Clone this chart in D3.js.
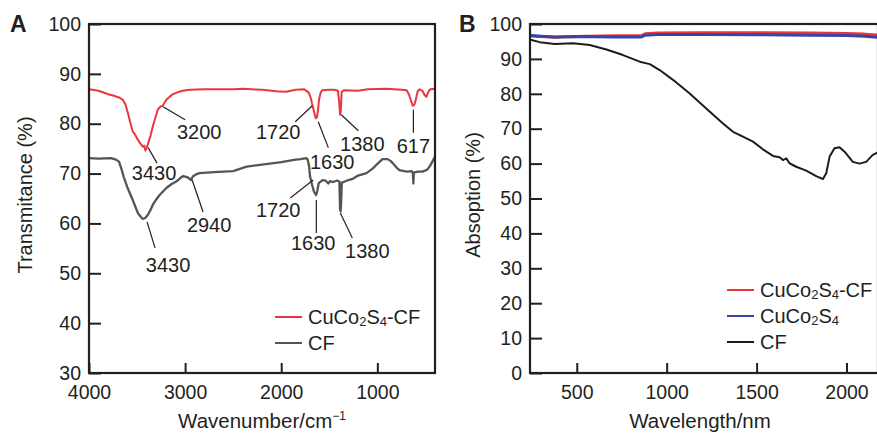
<!DOCTYPE html>
<html>
<head>
<meta charset="utf-8">
<script src="https://cdn.jsdelivr.net/npm/d3@7"></script>
<style>
  body { margin: 0; background: #fff; }
  svg { display: block; font-family: "Liberation Sans", Arial, sans-serif; }
  .tick text { font-size: 19.5px; fill: #231f20; }
  .tick line { stroke: #231f20; stroke-width: 2; }
</style>
</head>
<body>
<div id="chart"></div>
<script>
// ---- Panel A: FTIR (wavenumber, transmitance %)
const ftirCuCoS = [
  [4000, 86.9], [3900, 86.6], [3800, 85.9], [3740, 85.6], [3713, 85.4], [3680, 85.2],
  [3648, 84.8], [3620, 83.8], [3596, 82.2], [3570, 80.2], [3544, 78.4], [3520, 77.8],
  [3492, 76.8], [3465, 76.0], [3440, 75.4], [3425, 75.6], [3413, 74.6], [3400, 75.2],
  [3389, 75.8], [3360, 77.6], [3337, 79.4], [3310, 81.2], [3285, 82.8], [3260, 83.4],
  [3233, 83.6], [3215, 84.2], [3195, 84.8], [3160, 85.4], [3130, 85.9], [3080, 86.3],
  [3026, 86.6], [2950, 86.8], [2800, 86.9], [2500, 86.9], [2400, 87.0], [2200, 86.8],
  [2050, 86.5], [1950, 86.4], [1850, 86.8], [1760, 86.9], [1730, 86.5], [1710, 86.1],
  [1690, 85.0], [1680, 84.1], [1660, 82.5], [1641, 81.1], [1628, 81.3], [1615, 83.0],
  [1607, 84.8], [1590, 86.2], [1575, 86.7], [1500, 86.8], [1450, 86.8], [1410, 86.6],
  [1395, 84.0], [1388, 81.8], [1380, 82.5], [1372, 86.3], [1350, 86.7], [1200, 86.6],
  [1100, 86.9], [900, 87.0], [750, 86.8], [695, 86.7], [670, 85.8], [650, 84.6],
  [630, 83.6], [615, 83.8], [600, 84.8], [580, 86.5], [560, 86.9], [530, 86.6],
  [510, 85.8], [490, 85.4], [470, 86.4], [450, 86.9], [400, 87.0]
];
const ftirCF = [
  [4000, 73.1], [3900, 73.0], [3770, 73.1], [3720, 72.8], [3688, 72.4], [3660, 70.8],
  [3640, 69.4], [3600, 67.2], [3545, 64.7], [3510, 63.0], [3492, 62.1], [3460, 61.3],
  [3440, 60.9], [3415, 61.1], [3389, 61.7], [3360, 62.7], [3337, 63.7], [3300, 64.8],
  [3265, 65.7], [3230, 66.4], [3195, 67.1], [3140, 67.9], [3092, 68.4], [3050, 69.1],
  [3020, 69.5], [2980, 69.3], [2950, 68.9], [2938, 68.7], [2920, 69.4], [2880, 69.9],
  [2850, 70.1], [2700, 70.3], [2500, 70.5], [2360, 71.4], [2200, 71.8], [2000, 72.3],
  [1850, 72.8], [1800, 72.9], [1740, 73.1], [1725, 72.8], [1710, 71.5], [1700, 69.4],
  [1680, 67.8], [1660, 66.4], [1645, 65.9], [1637, 65.7], [1625, 66.5], [1610, 68.1],
  [1590, 68.4], [1570, 68.7], [1540, 68.6], [1510, 68.0], [1490, 68.5], [1460, 68.3],
  [1420, 68.6], [1395, 68.4], [1388, 63.0], [1382, 62.4], [1376, 64.5], [1370, 68.2],
  [1340, 68.4], [1300, 68.7], [1250, 69.0], [1200, 69.6], [1112, 70.1], [1050, 71.0],
  [980, 72.3], [946, 72.9], [893, 72.9], [860, 72.5], [840, 72.1], [800, 71.2],
  [770, 70.7], [720, 70.5], [685, 70.4], [640, 70.5], [630, 70.0], [625, 68.0],
  [620, 70.2], [580, 70.4], [530, 70.4], [480, 70.8], [450, 71.6], [430, 72.3], [400, 73.4]
];
// peak labels: text, leader line start/end, text anchor (all in data units)
const ftirLabels = [
  { t: "3200", p1: [3229, 83.4], p2: [3000, 80.8], at: [2854, 78.4] },
  { t: "3430", p1: [3385, 75.2], p2: [3292, 72.1], at: [3323, 70.1] },
  { t: "1720", p1: [1677, 83.6], p2: [1854, 80.4], at: [2031, 78.4] },
  { t: "1630", p1: [1615, 80.4], p2: [1510, 75.2], at: [1469, 72.3] },
  { t: "1380", p1: [1375, 81.8], p2: [1198, 78.6], at: [1156, 76.0] },
  { t: "617",  p1: [625, 82.8],  p2: [625, 78.2],  at: [625, 75.6] },
  { t: "3430", p1: [3396, 60.3], p2: [3313, 55.1], at: [3177, 51.7] },
  { t: "2940", p1: [2927, 68.7], p2: [2813, 62.3], at: [2750, 59.7] },
  { t: "1720", p1: [1667, 68.7], p2: [1906, 65.1], at: [2031, 62.7] },
  { t: "1630", p1: [1635, 64.7], p2: [1635, 58.1], at: [1667, 56.1] },
  { t: "1380", p1: [1385, 62.1], p2: [1260, 57.1], at: [1104, 54.5] }
];
const ftirXTicks = [4000, 3000, 2000, 1000];
const ftirYTicks = [30, 40, 50, 60, 70, 80, 90, 100];

// ---- Panel B: UV-vis-NIR (wavelength, absorption %)
const absCuCoSCF = [
  [240, 96.6], [300, 96.4], [380, 96.2], [500, 96.4], [700, 96.6], [860, 96.7],
  [880, 97.2], [950, 97.4], [1200, 97.5], [1500, 97.5], [1800, 97.4], [2000, 97.3],
  [2100, 97.1], [2175, 96.8]
];
const absCuCoS = [
  [240, 96.7], [300, 96.5], [380, 96.3], [500, 96.4], [700, 96.3], [860, 96.3],
  [880, 96.8], [950, 97.0], [1200, 97.0], [1500, 96.9], [1800, 96.8], [2000, 96.7],
  [2100, 96.5], [2175, 96.2]
];
const absCF = [
  [240, 95.6], [248, 95.4], [294, 94.8], [378, 94.3], [480, 94.5], [572, 94.0],
  [665, 92.7], [757, 91.1], [850, 89.2], [906, 88.5], [961, 86.8], [1035, 84.0],
  [1128, 80.1], [1220, 75.8], [1313, 71.5], [1369, 69.1], [1424, 67.7], [1480, 66.3],
  [1535, 64.1], [1591, 62.2], [1628, 61.8], [1646, 61.0], [1665, 61.5], [1683, 60.1],
  [1720, 59.1], [1776, 58.0], [1831, 56.4], [1869, 55.6], [1887, 57.2], [1906, 62.0],
  [1933, 64.4], [1961, 64.7], [1989, 63.4], [2035, 60.5], [2072, 60.0], [2109, 60.5],
  [2146, 62.5], [2175, 63.2]
];
const absXTicks = [500, 1000, 1500, 2000];
const absYTicks = [0, 10, 20, 30, 40, 50, 60, 70, 80, 90, 100];

const RED = "#e8373c", GRAY = "#555555", BLUE = "#3646a6", BLACK = "#1c1c1c", INK = "#231f20";

const W = 877, H = 437;
const svg = d3.select("#chart").append("svg").attr("width", W).attr("height", H);

function panel(opts) {
  const x = d3.scaleLinear().domain(opts.xDomain).range(opts.xRange);
  const y = d3.scaleLinear().domain(opts.yDomain).range([373, 24]);
  const g = svg.append("g");

  const clipId = "clip" + opts.id;
  svg.append("clipPath").attr("id", clipId)
    .append("rect").attr("x", opts.xRange[0]).attr("y", 24)
    .attr("width", opts.xRange[1] - opts.xRange[0]).attr("height", 349);

  const line = d3.line().x((d) => x(d[0])).y((d) => y(d[1]));
  opts.series.forEach((s) => {
    g.append("path").datum(s.data)
      .attr("clip-path", "url(#" + clipId + ")")
      .attr("fill", "none").attr("stroke", s.color)
      .attr("stroke-width", s.width || 2)
      .attr("stroke-linejoin", "round")
      .attr("d", line);
  });

  // axes with inward ticks
  const yAxis = d3.axisLeft(y).tickValues(opts.yTicks).tickFormat(d3.format("d"))
    .tickSize(-12).tickPadding(8);
  g.append("g").attr("transform", "translate(" + opts.xRange[0] + ",0)").call(yAxis)
    .call((a) => a.select(".domain").remove());
  const xAxis = d3.axisBottom(x).tickValues(opts.xTicks).tickFormat(d3.format("d"))
    .tickSize(-10).tickPadding(12);
  g.append("g").attr("transform", "translate(0,373)").call(xAxis)
    .call((a) => a.select(".domain").remove());

  g.append("rect").attr("x", opts.xRange[0]).attr("y", 24)
    .attr("width", opts.xRange[1] - opts.xRange[0]).attr("height", 349)
    .attr("fill", "none").attr("stroke", INK).attr("stroke-width", 2.2);

  // panel letter
  g.append("text").attr("x", opts.letterX).attr("y", 32)
    .attr("font-size", 23).attr("font-weight", "bold").attr("fill", INK)
    .text(opts.letter);

  // axis titles
  g.append("text").attr("text-anchor", "middle")
    .attr("transform", "translate(" + opts.yTitleX + ",195) rotate(-90)")
    .attr("font-size", 20).attr("fill", INK).text(opts.yTitle);
  const xt = g.append("text").attr("text-anchor", "middle")
    .attr("x", opts.xTitleX).attr("y", 428)
    .attr("font-size", 20.5).attr("fill", INK).text(opts.xTitle);
  if (opts.xTitleSup) {
    xt.append("tspan").attr("font-size", 12).attr("dy", -8).text(opts.xTitleSup);
  }

  // legend
  opts.series.forEach((s, i) => {
    const ly = opts.legendY + i * 26;
    g.append("line").attr("x1", opts.legendX).attr("x2", opts.legendX + 27)
      .attr("y1", ly).attr("y2", ly).attr("stroke", s.color).attr("stroke-width", 2);
    const t = g.append("text").attr("x", opts.legendX + 33).attr("y", ly)
      .attr("dy", "0.35em").attr("font-size", 20).attr("fill", INK);
    s.label.forEach((part) => {
      const ts = t.append("tspan").text(part.text);
      if (part.sub) ts.attr("font-size", 13).attr("baseline-shift", "-2");
    });
  });

  return { g, x, y };
}

const labelParts = (sub) => [
  { text: "CuCo" }, { text: "2", sub: true }, { text: "S" }, { text: "4", sub: true }
].concat(sub ? [{ text: sub }] : []);

const A = panel({
  id: "A", letter: "A", letterX: 10,
  xDomain: [4000, 400], xRange: [89, 435], yDomain: [30, 100],
  xTicks: ftirXTicks, yTicks: ftirYTicks,
  yTitle: "Transmitance (%)", yTitleX: 32,
  xTitle: "Wavenumber/cm", xTitleSup: "\u22121", xTitleX: 262,
  legendX: 275, legendY: 317,
  series: [
    { data: ftirCuCoS, color: RED, label: labelParts("-CF") },
    { data: ftirCF, color: GRAY, label: [{ text: "CF" }], width: 2.3 }
  ]
});

ftirLabels.forEach((l) => {
  A.g.append("line")
    .attr("x1", A.x(l.p1[0])).attr("y1", A.y(l.p1[1]))
    .attr("x2", A.x(l.p2[0])).attr("y2", A.y(l.p2[1]))
    .attr("stroke", INK).attr("stroke-width", 1.2);
  A.g.append("text").attr("x", A.x(l.at[0])).attr("y", A.y(l.at[1]))
    .attr("dy", "0.35em").attr("text-anchor", "middle")
    .attr("font-size", 20).attr("fill", INK).text(l.t);
});

panel({
  id: "B", letter: "B", letterX: 459,
  xDomain: [240, 2175], xRange: [530, 878], yDomain: [0, 100],
  xTicks: absXTicks, yTicks: absYTicks,
  yTitle: "Absoption (%)", yTitleX: 480,
  xTitle: "Wavelength/nm", xTitleX: 700,
  legendX: 727, legendY: 290,
  series: [
    { data: absCuCoSCF, color: RED, label: labelParts("-CF"), width: 3 },
    { data: absCuCoS, color: BLUE, label: labelParts(""), width: 3 },
    { data: absCF, color: BLACK, label: [{ text: "CF" }], width: 2 }
  ]
});
</script>
</body>
</html>
